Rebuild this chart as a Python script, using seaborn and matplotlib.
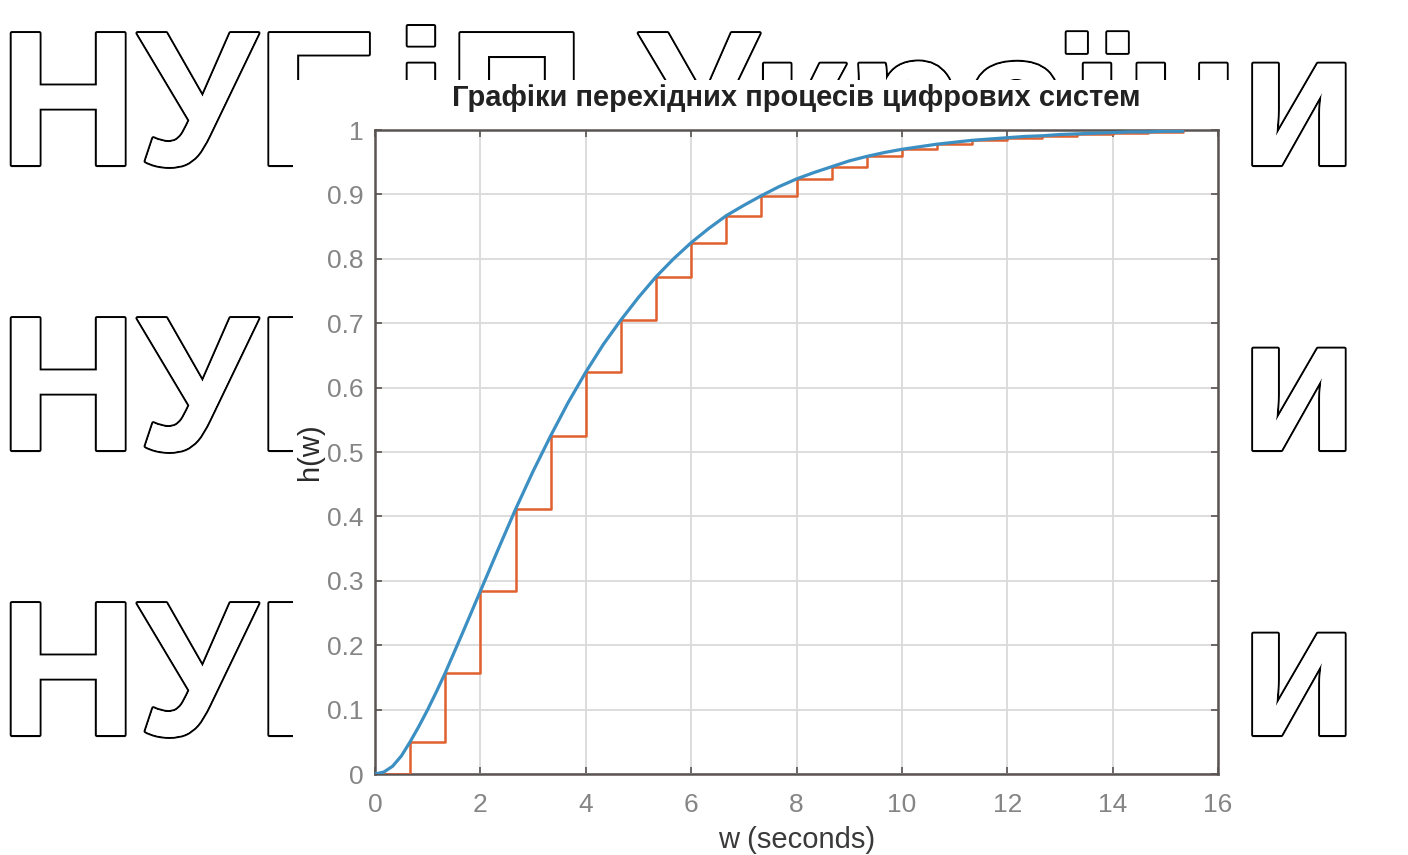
import numpy as np
import pandas as pd
import matplotlib
matplotlib.use("Agg")
import matplotlib.pyplot as plt
import matplotlib.patheffects as pe
from matplotlib.patches import Rectangle
import seaborn as sns

# Step response data
t_cont = [0.0, 0.167, 0.333, 0.5, 0.667, 0.833, 1.0, 1.167, 1.333, 1.667, 2.0,
          2.333, 2.667, 3.0, 3.333, 3.667, 4.0, 4.333, 4.667, 5.0, 5.333, 5.667,
          6.0, 6.333, 6.667, 7.0, 7.333, 7.667, 8.0, 8.333, 8.667, 9.0, 9.333,
          9.667, 10.0, 10.333, 10.667, 11.0, 11.333, 11.667, 12.0, 12.333, 12.667,
          13.0, 13.333, 13.667, 14.0, 14.333, 14.667, 15.0, 15.333]
h_cont = [0.000, 0.003, 0.012, 0.028, 0.050, 0.074, 0.100, 0.128, 0.157, 0.220,
          0.284, 0.348, 0.411, 0.470, 0.525, 0.577, 0.624, 0.667, 0.705, 0.740,
          0.772, 0.800, 0.825, 0.847, 0.867, 0.883, 0.898, 0.912, 0.924, 0.934,
          0.943, 0.952, 0.959, 0.965, 0.970, 0.974, 0.978, 0.981, 0.984, 0.986,
          0.988, 0.990, 0.991, 0.993, 0.994, 0.995, 0.996, 0.997, 0.997, 0.998,
          0.998]
sample_period = 2.0 / 3.0
t_disc = np.round(np.arange(0, 24) * sample_period, 4)
h_disc = [0.000, 0.050, 0.157, 0.284, 0.411, 0.525, 0.624, 0.705, 0.772, 0.825,
          0.867, 0.898, 0.924, 0.943, 0.959, 0.970, 0.978, 0.984, 0.988, 0.991,
          0.994, 0.996, 0.997, 0.998]

x_ticks = [0, 2, 4, 6, 8, 10, 12, 14, 16]
y_ticks = [0, 0.1, 0.2, 0.3, 0.4, 0.5, 0.6, 0.7, 0.8, 0.9, 1]
y_tick_labels = ["0", "0.1", "0.2", "0.3", "0.4", "0.5", "0.6", "0.7", "0.8", "0.9", "1"]

title_text = "Графіки перехідних процесів цифрових систем"
x_label = "w (seconds)"
y_label = "h(w)"
watermark = "НУБіП України"

sns.set_theme(style="whitegrid")
plt.rcParams["font.family"] = ["Liberation Sans", "DejaVu Sans"]

W, H = 1408, 855
fig = plt.figure(figsize=(W / 100, H / 100), dpi=100)
fig.patch.set_facecolor("white")

# Outlined watermark rows behind the plot
for base_y in (165, 450, 735):
    fig.text(-1 / W, 1 - base_y / H, watermark, fontsize=138, fontweight="bold",
             color="white", ha="left", va="baseline", zorder=1,
             path_effects=[pe.withStroke(linewidth=3.0, foreground="black"), pe.Normal()])

# White panel holding the chart
panel = Rectangle((293 / W, 0), (1233 - 293) / W, (H - 80) / H, transform=fig.transFigure,
                  facecolor="white", edgecolor="none", zorder=5)
fig.patches.append(panel)

ax = fig.add_axes([375 / W, (H - 774) / H, (1218 - 375) / W, (774 - 130) / H])
ax.set_zorder(10)
ax.set_facecolor("white")

df_disc = pd.DataFrame({"t": t_disc, "h": h_disc})
df_cont = pd.DataFrame({"t": t_cont, "h": h_cont})
sns.lineplot(data=df_disc, x="t", y="h", ax=ax, color="#e0602e", linewidth=1.8,
             drawstyle="steps-post", estimator=None, sort=False, zorder=3)
sns.lineplot(data=df_cont, x="t", y="h", ax=ax, color="#3c8fc2", linewidth=2.3,
             estimator=None, sort=False, zorder=4)

ax.set_xlim(0, 16)
ax.set_ylim(0, 1)
ax.set_xticks(x_ticks)
ax.set_xticklabels([str(v) for v in x_ticks])
ax.set_yticks(y_ticks)
ax.set_yticklabels(y_tick_labels)
ax.grid(True, color="#dadada", linewidth=1.3)
for s in ax.spines.values():
    s.set_visible(True)
    s.set_color("#5a5452")
    s.set_linewidth(1.8)
ax.tick_params(axis="both", which="both", direction="in", length=5, width=1.2,
               color="#5a5452", labelsize=19, labelcolor="#858585",
               top=True, right=True, bottom=True, left=True)
ax.tick_params(axis="x", pad=14)
ax.tick_params(axis="y", pad=8)

ax.set_xlabel(x_label, fontsize=21, color="#3a3a3a", labelpad=6)
ax.set_ylabel(y_label, fontsize=21, color="#2a2a2a", labelpad=2)
ax.set_title(title_text, fontsize=21, fontweight="bold", color="#222222", pad=17)

fig.savefig("out.png", dpi=100, facecolor="white")
